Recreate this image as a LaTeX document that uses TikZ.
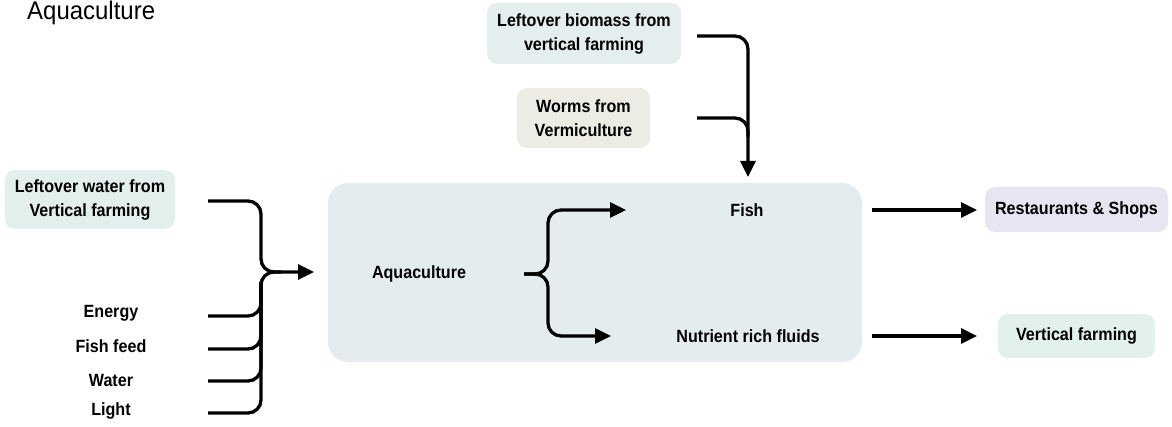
\documentclass[tikz,border=0pt]{standalone}
\usepackage{fontspec}
\setmainfont{Liberation Sans}[FakeStretch=0.91]
\newfontfamily\titlefont{Liberation Sans}[FakeStretch=0.94]
\usetikzlibrary{arrows.meta,calc}
\definecolor{boxteal}{HTML}{E3EFEC}
\definecolor{boxbio}{HTML}{E4EEEE}
\definecolor{boxworm}{HTML}{ECECE4}
\definecolor{boxmain}{HTML}{E5ECEF}
\definecolor{boxlav}{HTML}{E7E5F1}
\definecolor{boxvf}{HTML}{E2F1EC}
\tikzset{
  lbl/.style={font=\bfseries\fontsize{17.7}{24}\selectfont, align=center, inner sep=0pt},
  boxed/.style={lbl, rounded corners=10pt, minimum width=#1},
  conn/.style={line width=3.3pt, rounded corners=13pt},
  arr/.style={conn, -{Triangle[length=16pt,width=15pt]}},
}
\begin{document}
\begin{tikzpicture}[x=1pt,y=-1pt]
\useasboundingbox (0,0) rectangle (1172,427);
% title
\node[anchor=base west, inner sep=0pt, font=\titlefont\fontsize{25.5}{30}\selectfont] (title) at (27,20) {Aquaculture};
% boxes
\node[boxed=194pt, fill=boxbio, minimum height=61pt] (bio) at (584,33.5) {Leftover biomass from\\vertical farming};
\node[boxed=133pt, fill=boxworm, minimum height=60pt] (worm) at (583.5,118) {Worms from\\Vermiculture};
\node[boxed=170pt, fill=boxteal, minimum height=59pt] (water) at (90,199.5) {Leftover water from\\Vertical farming};
\node[rounded corners=20pt, fill=boxmain, minimum width=534pt, minimum height=179pt] (main) at (595,272.5) {};
\node[boxed=183pt, fill=boxlav, minimum height=45pt] (rest) at (1076.5,209.5) {Restaurants \& Shops};
\node[boxed=157pt, fill=boxvf, minimum height=44pt] (vf) at (1076.5,336) {Vertical farming};
% inner labels
\node[lbl] (aqua) at (419,274) {Aquaculture};
\node[lbl] (fish) at (747,210) {Fish};
\node[lbl] (nut) at (748,336) {Nutrient rich fluids};
% input labels
\node[lbl] (energy) at (111,313) {Energy};
\node[lbl] (feed) at (111,346) {Fish feed};
\node[lbl] (wat) at (111,380) {Water};
\node[lbl] (light) at (111,411) {Light};
% connector coordinates
\coordinate (bioS) at (697,36);
\coordinate (wormS) at (697,118);
\coordinate (topT) at (748,177);
\coordinate (waterS) at (208,201);
\coordinate (energyS) at (208,316);
\coordinate (feedS) at (208,349);
\coordinate (watS) at (208,381);
\coordinate (lightS) at (208,413);
\coordinate (J) at (261,272);
\coordinate (leftT) at (314,272);
\coordinate (aquaS) at (524,274);
\coordinate (fishT) at (626,210);
\coordinate (nutT) at (611,336);
\coordinate (fishS) at (872,210);
\coordinate (nutS) at (872,336);
\coordinate (restT) at (977,210);
\coordinate (vfT) at (977,336);
% top inputs
\draw[arr] (bioS) -| (topT);
\draw[conn] (wormS) -| ($(topT)+(0,-40)$);
% left inputs
\draw[arr] (waterS) -| (J) -- (leftT);
\draw[conn] (lightS) -| (J) -- ($(J)+(20,0)$);
\draw[conn] (energyS) -| ($(J)+(0,10)$);
\draw[conn] (feedS) -| ($(J)+(0,10)$);
\draw[conn] (watS) -| ($(J)+(0,10)$);
% inner split
\draw[arr] (aquaS) -| (548,210) -- (fishT);
\draw[arr] (aquaS) -| (548,336) -- (nutT);
% outputs
\draw[arr] (fishS) -- (restT);
\draw[arr] (nutS) -- (vfT);
\end{tikzpicture}
\end{document}
